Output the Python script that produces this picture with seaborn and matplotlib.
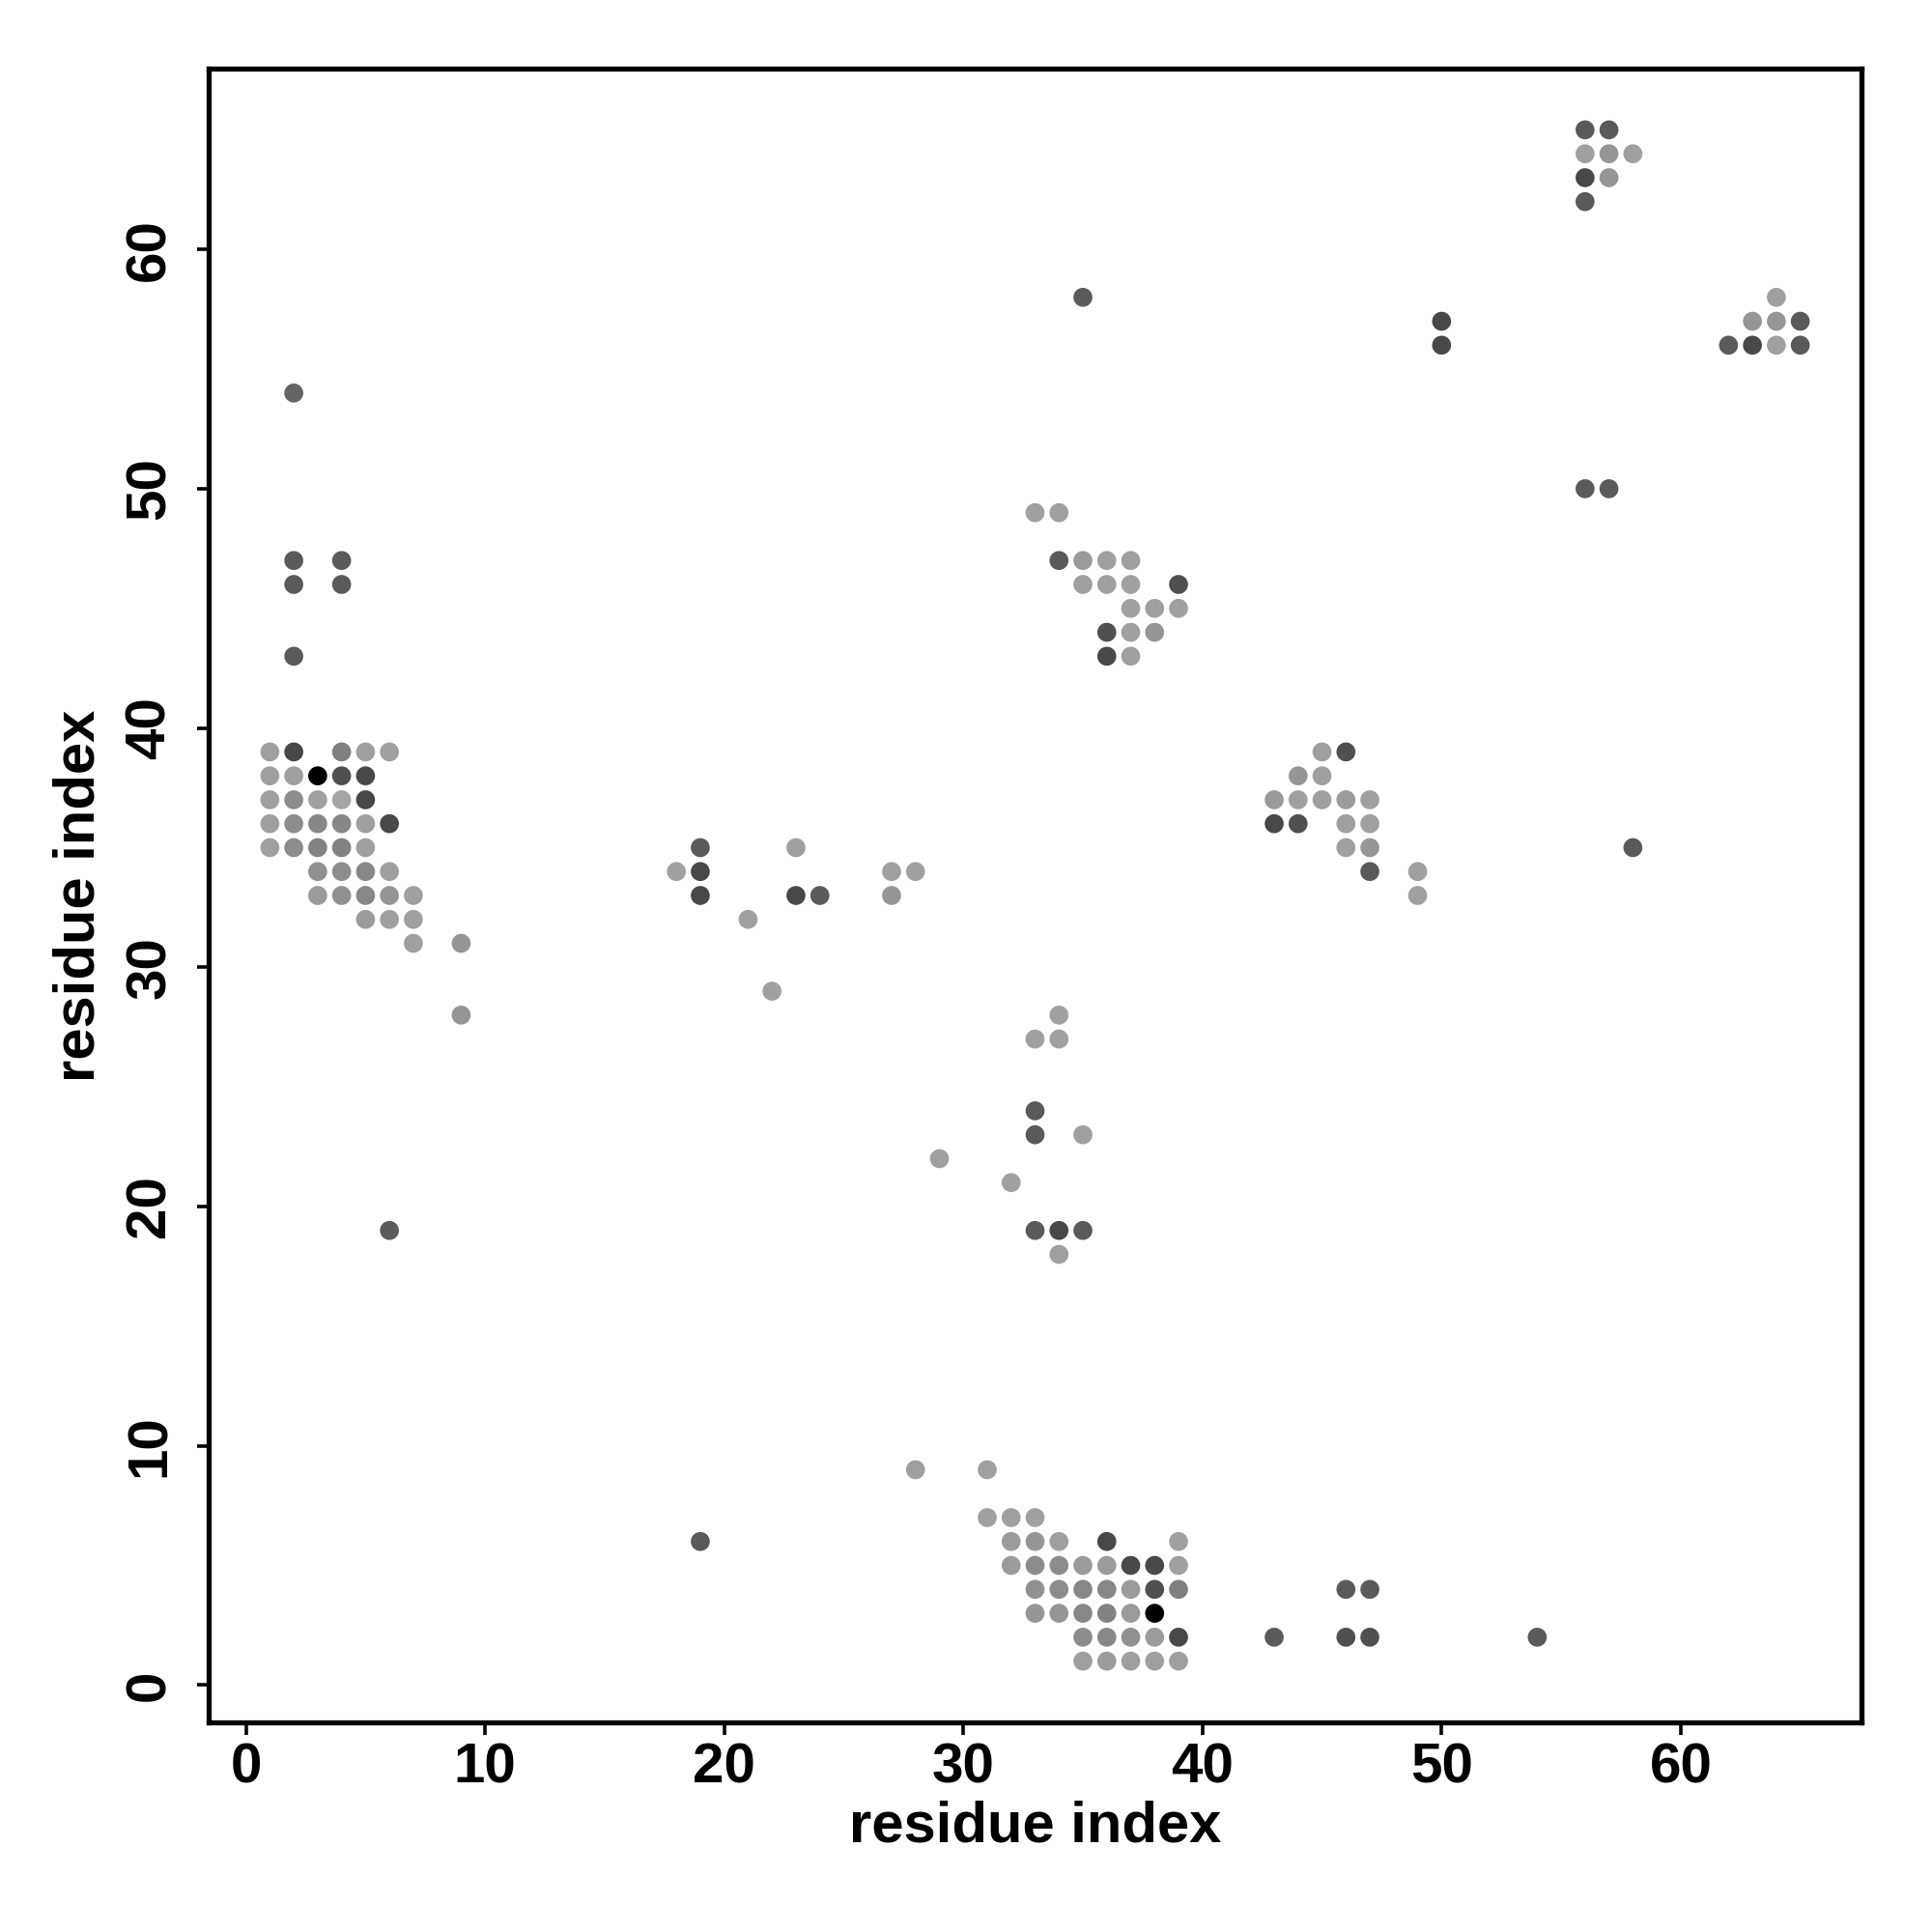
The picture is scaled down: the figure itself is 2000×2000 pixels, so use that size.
import matplotlib
matplotlib.use("Agg")
import matplotlib.pyplot as plt
import seaborn as sns
import pandas as pd

# contact map points: residue i, residue j, grey level (0 = black, 255 = white)
res_x = [1, 2, 4, 5, 6, 1, 2, 3, 4, 5, 1, 2, 3, 4, 5, 1, 2, 3, 4, 5, 6,
         1, 2, 3, 4, 5, 3, 4, 5, 6, 3, 4, 5, 6, 7, 5, 6, 7, 7, 9, 9,
         2, 2, 2, 4, 4, 2, 6,
         18, 19, 19, 19, 21, 22, 23, 23, 24, 27, 28, 27, 19, 28,
         29, 32, 33, 34, 34, 33, 33, 35, 33, 34, 35, 34,
         35, 33, 34, 34, 35, 36, 37, 35, 36, 37, 39, 37, 38, 39, 36, 37, 38, 36, 37,
         45, 46, 44, 45, 43, 44, 45, 46, 47, 43, 44, 46, 47, 46, 47, 47, 49, 49, 58,
         31, 31, 32, 33, 32, 33, 34, 36, 39,
         32, 33, 34, 35, 36, 37, 38, 39,
         33, 34, 35, 36, 37, 38, 39,
         33, 34, 35, 36, 37, 38,
         35, 36, 37, 38, 39,
         35, 36, 37, 38, 39,
         43, 46, 47, 46, 47, 54,
         56, 57, 56, 57, 58, 56, 57, 56, 56, 57, 50, 50,
         64, 63, 64, 65, 62, 63, 64, 65]
res_y = [39, 39, 39, 39, 39, 38, 38, 38, 38, 38, 37, 37, 37, 37, 37, 36, 36, 36, 36, 36, 36,
         35, 35, 35, 35, 35, 34, 34, 34, 34, 33, 33, 33, 33, 33, 32, 32, 32, 31, 31, 28,
         54, 47, 46, 47, 46, 43, 19,
         34, 35, 34, 33, 32, 29, 35, 33, 33, 34, 34, 33, 6, 9,
         22, 21, 27, 28, 27, 24, 23, 23, 19, 19, 19, 18,
         58, 49, 49, 47, 47, 47, 47, 46, 46, 46, 46, 45, 45, 45, 44, 44, 44, 43, 43,
         39, 39, 38, 38, 37, 37, 37, 37, 37, 36, 36, 36, 36, 35, 35, 34, 34, 33, 35,
         9, 7, 7, 7, 6, 6, 6, 6, 6,
         5, 5, 5, 5, 5, 5, 5, 5,
         4, 4, 4, 4, 4, 4, 4,
         3, 3, 3, 3, 3, 3,
         2, 2, 2, 2, 2,
         1, 1, 1, 1, 1,
         2, 4, 4, 2, 2, 2,
         65, 65, 64, 64, 64, 63, 63, 62, 50, 50, 57, 56,
         58, 57, 57, 57, 56, 56, 56, 56]
grey = [160, 72, 128, 160, 160, 160, 160, 0, 80, 72, 160, 140, 160, 165, 72, 160, 140, 135, 135, 160, 72,
        160, 140, 130, 130, 160, 145, 140, 135, 160, 155, 145, 135, 150, 160, 155, 160, 160, 160, 150, 150,
        100, 90, 90, 90, 90, 90, 90,
        160, 90, 72, 72, 160, 160, 160, 72, 90, 160, 160, 150, 90, 160,
        160, 160, 160, 160, 160, 90, 90, 160, 90, 72, 90, 160,
        90, 160, 160, 90, 155, 160, 160, 160, 160, 160, 80, 160, 160, 160, 80, 160, 150, 72, 160,
        160, 80, 150, 160, 155, 160, 160, 155, 160, 72, 80, 160, 160, 160, 150, 90, 160, 160, 90,
        160, 160, 160, 160, 155, 150, 160, 72, 160,
        155, 140, 140, 155, 155, 72, 72, 160,
        145, 140, 135, 135, 155, 80, 128,
        150, 150, 135, 130, 155, 0,
        140, 135, 145, 155, 72,
        160, 155, 160, 160, 160,
        90, 90, 90, 80, 80, 90,
        90, 90, 160, 150, 160, 72, 150, 90, 90, 90, 72, 72,
        160, 150, 150, 90, 90, 72, 160, 90]

contacts = pd.DataFrame({"i": res_x, "j": res_y, "grey": grey})
pal = {g: (g / 255, g / 255, g / 255) for g in set(grey)}

sns.set_style("white")
plt.rcParams['font.family'] = ['Liberation Sans', 'DejaVu Sans']
plt.rcParams['text.color'] = 'black'
plt.rcParams['axes.labelcolor'] = 'black'
plt.rcParams['xtick.color'] = 'black'
plt.rcParams['ytick.color'] = 'black'

fig, ax = plt.subplots(figsize=(10, 10), dpi=200)
fig.subplots_adjust(left=0.108, right=0.9635, bottom=0.1085, top=0.9645)

sns.scatterplot(data=contacts, x="i", y="j", hue="grey", palette=pal,
                s=50, linewidth=0, legend=False, ax=ax)

ax.set_xlim(-1.56, 67.56)
ax.set_ylim(-1.56, 67.56)
ax.set_xticks(range(0, 61, 10))
ax.set_yticks(range(0, 61, 10))
ax.set_xticklabels([str(t) for t in range(0, 61, 10)], fontsize=21, fontweight='bold')
ax.set_yticklabels([str(t) for t in range(0, 61, 10)], fontsize=21, fontweight='bold',
                   rotation=90, va='center')
ax.tick_params(axis='both', direction='out', length=4.5, width=1.3, colors='black',
               bottom=True, left=True)
ax.tick_params(axis='x', pad=3)
ax.tick_params(axis='y', pad=7.5)
ax.set_xlabel("residue index", fontsize=21.5, fontweight='bold', labelpad=2)
ax.set_ylabel("residue index", fontsize=21.5, fontweight='bold', labelpad=7)

for side in ax.spines.values():
    side.set_color('black')
    side.set_linewidth(1.9)

fig.savefig("out.png", dpi=200)
